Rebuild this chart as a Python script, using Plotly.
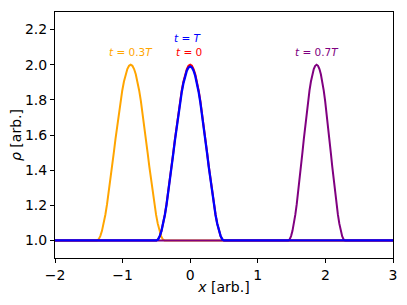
import plotly.graph_objects as go

# Density profiles rho(x) at four times
x_t0 = [-2.0, -0.5, -0.475, -0.45, -0.425, -0.4, -0.375, -0.35, -0.325, -0.3, -0.275, -0.25,
        -0.225, -0.2, -0.175, -0.15, -0.125, -0.1, -0.075, -0.05, -0.025, 0.0, 0.025, 0.05,
        0.075, 0.1, 0.125, 0.15, 0.175, 0.2, 0.225, 0.25, 0.275, 0.3, 0.325, 0.35, 0.375,
        0.4, 0.425, 0.45, 0.475, 0.5, 3.0]
y_t0 = [1.0, 1.0, 1.0062, 1.0245, 1.0545, 1.0955, 1.1464, 1.2061, 1.2730, 1.3455, 1.4218, 1.5,
        1.5782, 1.6545, 1.7270, 1.7939, 1.8536, 1.9045, 1.9455, 1.9755, 1.9938, 2.0, 1.9938,
        1.9755, 1.9455, 1.9045, 1.8536, 1.7939, 1.7270, 1.6545, 1.5782, 1.5, 1.4218, 1.3455,
        1.2730, 1.2061, 1.1464, 1.0955, 1.0545, 1.0245, 1.0062, 1.0, 1.0]

x_t03 = [-2.0, -1.38, -1.355, -1.33, -1.305, -1.28, -1.255, -1.23, -1.205, -1.18, -1.155, -1.13,
         -1.105, -1.08, -1.055, -1.03, -1.005, -0.98, -0.955, -0.93, -0.905, -0.88, -0.855,
         -0.83, -0.805, -0.78, -0.755, -0.73, -0.705, -0.68, -0.655, -0.63, -0.605, -0.58,
         -0.555, -0.53, -0.505, -0.48, -0.455, -0.43, -0.405, -0.38, 3.0]
y_t03 = [1.0, 1.0, 1.0062, 1.0245, 1.0545, 1.0955, 1.1464, 1.2061, 1.2730, 1.3455, 1.4218, 1.5,
         1.5782, 1.6545, 1.7270, 1.7939, 1.8536, 1.9045, 1.9455, 1.9755, 1.9938, 2.0, 1.9938,
         1.9755, 1.9455, 1.9045, 1.8536, 1.7939, 1.7270, 1.6545, 1.5782, 1.5, 1.4218, 1.3455,
         1.2730, 1.2061, 1.1464, 1.0955, 1.0545, 1.0245, 1.0062, 1.0, 1.0]

x_t07 = [-2.0, 1.45, 1.471, 1.492, 1.513, 1.534, 1.555, 1.576, 1.597, 1.618, 1.639, 1.66,
         1.681, 1.702, 1.723, 1.744, 1.765, 1.786, 1.807, 1.828, 1.849, 1.87, 1.891, 1.912,
         1.933, 1.954, 1.975, 1.996, 2.017, 2.038, 2.059, 2.08, 2.101, 2.122, 2.143, 2.164,
         2.185, 2.206, 2.227, 2.248, 2.269, 2.29, 3.0]
y_t07 = [1.0, 1.0, 1.0062, 1.0245, 1.0545, 1.0955, 1.1464, 1.2061, 1.2730, 1.3455, 1.4218, 1.5,
         1.5782, 1.6545, 1.7270, 1.7939, 1.8536, 1.9045, 1.9455, 1.9755, 1.9938, 2.0, 1.9938,
         1.9755, 1.9455, 1.9045, 1.8536, 1.7939, 1.7270, 1.6545, 1.5782, 1.5, 1.4218, 1.3455,
         1.2730, 1.2061, 1.1464, 1.0955, 1.0545, 1.0245, 1.0062, 1.0, 1.0]

x_tT = [-2.0, -0.5, -0.475, -0.45, -0.425, -0.4, -0.375, -0.35, -0.325, -0.3, -0.275, -0.25,
        -0.225, -0.2, -0.175, -0.15, -0.125, -0.1, -0.075, -0.05, -0.025, 0.0, 0.025, 0.05,
        0.075, 0.1, 0.125, 0.15, 0.175, 0.2, 0.225, 0.25, 0.275, 0.3, 0.325, 0.35, 0.375,
        0.4, 0.425, 0.45, 0.475, 0.5, 3.0]
y_tT = [1.0, 1.0, 1.0061, 1.0243, 1.054, 1.0945, 1.1449, 1.204, 1.2703, 1.342, 1.4176, 1.495,
        1.5724, 1.648, 1.7197, 1.786, 1.8451, 1.8955, 1.936, 1.9657, 1.9839, 1.99, 1.9839,
        1.9657, 1.936, 1.8955, 1.8451, 1.786, 1.7197, 1.648, 1.5724, 1.495, 1.4176, 1.342,
        1.2703, 1.204, 1.1449, 1.0945, 1.054, 1.0243, 1.0061, 1.0, 1.0]

labels = ["<i>t</i> = 0", "<i>t</i> = 0.3<i>T</i>", "<i>t</i> = 0.7<i>T</i>", "<i>t</i> = <i>T</i>"]
label_x = [-0.02, -0.88, 1.87, -0.03]
label_y = [2.07, 2.07, 2.07, 2.15]
colors = ["red", "orange", "purple", "blue"]

fig = go.Figure()
order = [(x_t03, y_t03, 1), (x_t0, y_t0, 0), (x_t07, y_t07, 2), (x_tT, y_tT, 3)]
for xs, ys, i in order:
    fig.add_trace(go.Scatter(x=xs, y=ys, mode="lines",
                             line=dict(color=colors[i], width=2.3 if i == 3 else 2),
                             showlegend=False, hoverinfo="skip"))

for i in range(4):
    fig.add_annotation(x=label_x[i], y=label_y[i], text=labels[i], showarrow=False,
                       font=dict(color=colors[i], size=10.5, family="DejaVu Sans"),
                       xanchor="center", yanchor="middle")

axis_common = dict(showgrid=False, zeroline=False, showline=True, linecolor="black",
                   linewidth=1, mirror=True, ticks="outside", ticklen=4, tickcolor="black",
                   tickfont=dict(size=14, color="black", family="DejaVu Sans"))
fig.update_xaxes(range=[-2, 3], dtick=1, tick0=0,
                 title=dict(text="<i>x</i> [arb.]", font=dict(size=14, family="DejaVu Sans", color="black"), standoff=0),
                 **axis_common)
fig.update_yaxes(range=[0.9, 2.3], dtick=0.2, tick0=0, tickformat=".1f",
                 title=dict(text="<i>ρ</i> [arb.]", font=dict(size=14, family="DejaVu Sans", color="black"), standoff=0),
                 **axis_common)

fig.update_layout(width=407, height=305, margin=dict(l=55, r=14, t=12, b=47, autoexpand=False),
                  plot_bgcolor="white", paper_bgcolor="white",
                  font=dict(family="DejaVu Sans"))
fig.write_html("out.html", config={"displayModeBar": False},
               post_script="document.body.style.margin='0';document.body.style.overflow='hidden';")
